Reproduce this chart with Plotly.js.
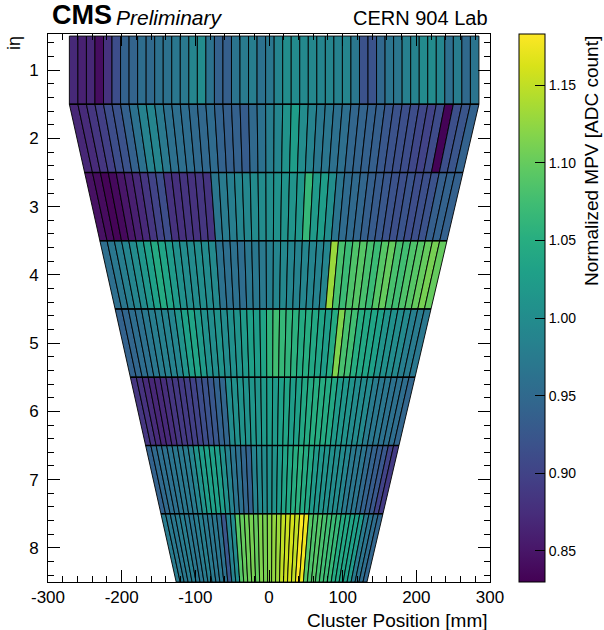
<!DOCTYPE html>
<html><head><meta charset="utf-8">
<script src="https://cdn.plot.ly/plotly-3.0.1.min.js"></script>
<style>html,body{margin:0;padding:0;background:#fff}#chart{width:604px;height:630px}</style>
</head><body><div id="chart"></div>
<script>
// ---- data ----
const etaRows = [1, 2, 3, 4, 5, 6, 7, 8];
const nStrips = 48;
// eta partition boundaries (row 1 is drawn as a rectangle using boundary 0)
const boundaryY     = [1.5, 2.5, 3.5, 4.5, 5.5, 6.5, 7.5, 8.5];
const boundaryLeft  = [-271, -250.3, -229.6, -208.9, -188.2, -167.5, -146.7, -126];
const boundaryRight = [285, 263.3, 241.6, 219.9, 198.2, 176.4, 154.7, 133];

const mpvEta1 = [0.870,0.862,0.868,0.842,0.880,0.912,0.940,0.942,0.955,0.950,0.960,0.962,0.970,0.972,0.990,1.000,
                 0.962,0.938,0.935,0.965,0.975,0.980,0.962,0.970,0.988,1.002,0.998,0.995,0.992,0.988,0.990,0.985,
                 0.990,0.970,0.918,0.920,0.948,0.965,0.968,0.982,0.985,0.998,1.000,0.990,0.958,0.978,0.950,0.965];
const mpvEta2 = [0.868,0.872,0.885,0.895,0.912,0.918,0.938,0.962,0.985,0.990,0.972,0.960,0.958,0.955,0.950,0.948,
                 0.952,0.940,0.935,0.938,0.932,0.950,0.962,0.978,0.990,1.010,1.025,1.000,0.985,0.970,0.968,0.960,
                 0.958,0.945,0.942,0.938,0.935,0.925,0.918,0.915,0.912,0.905,0.900,0.910,0.832,0.915,0.922,0.940];
const mpvEta3 = [0.845,0.840,0.833,0.838,0.850,0.860,0.870,0.885,0.900,0.912,0.880,0.878,0.882,0.880,0.885,0.882,
                 0.968,0.975,0.980,0.990,0.992,0.998,1.000,1.002,1.008,1.010,1.012,1.015,1.065,1.020,1.025,1.002,
                 0.965,0.952,0.950,0.945,0.935,0.930,0.925,0.918,0.915,0.920,0.912,0.915,0.918,0.935,0.940,0.938];
const mpvEta4 = [0.958,0.970,0.980,0.990,1.000,1.015,1.030,1.045,1.035,1.020,1.005,1.000,0.998,1.002,0.998,0.995,
                 0.962,0.958,0.960,0.955,0.968,0.970,0.972,0.980,0.990,0.992,0.988,0.985,0.990,0.988,0.985,0.990,
                 1.130,1.080,1.070,1.085,1.090,1.080,1.070,1.090,1.100,1.080,1.075,1.085,1.090,1.100,1.110,1.100];
const mpvEta5 = [0.940,0.945,0.955,0.960,0.970,0.978,0.982,0.985,0.990,1.010,1.030,1.035,1.020,1.005,1.002,1.010,
                 1.000,1.005,1.010,1.020,1.030,1.025,1.035,1.060,1.075,1.065,1.060,1.055,1.045,1.050,1.040,1.035,
                 1.025,1.045,1.115,1.080,1.075,1.050,1.040,1.035,1.030,1.010,1.005,1.000,0.995,0.980,0.975,0.970];
const mpvEta6 = [0.885,0.880,0.872,0.868,0.870,0.875,0.885,0.888,0.890,0.895,0.900,0.912,0.918,0.925,0.940,0.945,
                 1.000,1.005,1.010,1.008,1.015,1.012,1.020,1.025,1.020,1.030,1.035,1.025,1.030,1.040,1.045,1.050,
                 1.048,1.045,1.040,1.020,1.015,1.010,1.000,0.998,0.995,0.975,0.970,0.968,0.962,0.960,0.955,0.945];
const mpvEta7 = [0.940,0.950,0.958,0.960,0.965,0.970,0.972,0.975,0.990,1.010,1.025,1.030,1.030,1.025,1.005,0.985,
                 0.965,0.960,0.945,0.940,0.985,0.995,1.000,1.005,1.010,1.020,1.035,1.040,1.050,1.055,1.045,1.040,
                 1.020,1.015,1.010,1.005,1.000,0.998,0.990,0.972,0.968,0.965,0.950,0.940,0.932,0.925,0.900,0.890];
const mpvEta8 = [0.975,0.972,0.970,0.975,0.978,0.970,0.968,0.975,0.980,0.972,0.968,0.970,0.962,0.925,0.985,1.000,
                 1.090,1.100,1.105,1.110,1.100,1.115,1.110,1.120,1.125,1.130,1.150,1.155,1.160,1.150,1.183,1.175,
                 1.090,1.085,1.090,1.080,1.075,1.070,1.065,1.045,1.040,1.035,1.030,1.020,0.975,0.965,0.955,0.945];
const mpvRows = [mpvEta1, mpvEta2, mpvEta3, mpvEta4, mpvEta5, mpvEta6, mpvEta7, mpvEta8];

const zMin = 0.83, zMax = 1.183;
const xTickVals = [-300, -200, -100, 0, 100, 200, 300];
const xTickText = ['-300', '-200', '-100', '0', '100', '200', '300'];
const yTickVals = [1, 2, 3, 4, 5, 6, 7, 8];
const cbTickVals = [0.85, 0.90, 0.95, 1.00, 1.05, 1.10, 1.15];
const cbTickText = ['0.85', '0.90', '0.95', '1.00', '1.05', '1.10', '1.15'];

// ---- styling ----
const FONT = 'Liberation Sans, Arial, Helvetica, sans-serif';
const viridis = [
 [0, '#440154'], [0.06274509803921569, '#48186a'],
 [0.12549019607843137, '#472d7b'], [0.18823529411764706, '#424086'],
 [0.25098039215686274, '#3b528b'], [0.3137254901960784, '#33638d'],
 [0.3764705882352941, '#2c728e'], [0.4392156862745098, '#26828e'],
 [0.5019607843137255, '#21918c'], [0.5647058823529412, '#1fa088'],
 [0.6274509803921569, '#28ae80'], [0.6901960784313725, '#3fbc73'],
 [0.7529411764705882, '#5ec962'], [0.8156862745098039, '#84d44b'],
 [0.8784313725490196, '#addc30'], [0.9411764705882353, '#d8e219'],
 [1, '#fde725']];
function hex2rgb(h){return [parseInt(h.substr(1,2),16),parseInt(h.substr(3,2),16),parseInt(h.substr(5,2),16)];}
function colorOf(v){
  let t = (v - zMin) / (zMax - zMin); t = Math.max(0, Math.min(1, t));
  for (let k = 1; k < viridis.length; k++) {
    if (t <= viridis[k][0]) {
      const a = viridis[k-1], b = viridis[k];
      const f = (t - a[0]) / (b[0] - a[0]);
      const ca = hex2rgb(a[1]), cb = hex2rgb(b[1]);
      const c = ca.map((x, i) => Math.round(x + (cb[i] - x) * f));
      return 'rgb(' + c.join(',') + ')';
    }
  }
  return viridis[viridis.length-1][1];
}

const traces = [];
// colorbar carrier (hidden beneath the cells)
traces.push({type:'scatter', mode:'markers', x:[0], y:[5], hoverinfo:'skip', showlegend:false,
  marker:{size:1, color:[zMin], cmin:zMin, cmax:zMax, colorscale:viridis, showscale:true,
    colorbar:{thickness:26, thicknessmode:'pixels', len:1, lenmode:'fraction', y:0.5, yanchor:'middle', ypad:0,
      x:(519-48)/442, xanchor:'left', xpad:0, outlinewidth:1, outlinecolor:'#000',
      ticks:'inside', ticklen:10, tickwidth:1, tickcolor:'#000', tickmode:'array', ticklabelstandoff:6,
      tickvals:cbTickVals, ticktext:cbTickText, tickfont:{family:FONT, size:14, color:'#000'}}}});

etaRows.forEach((eta, r) => {
  const yt = eta - 0.5, yb = eta + 0.5;
  const tl = r === 0 ? boundaryLeft[0] : boundaryLeft[r-1];
  const tr = r === 0 ? boundaryRight[0] : boundaryRight[r-1];
  const bl = boundaryLeft[r], br = boundaryRight[r];
  const vals = mpvRows[r];
  for (let j = 0; j < nStrips; j++) {
    const xt0 = tl + (tr - tl) * j / nStrips, xt1 = tl + (tr - tl) * (j + 1) / nStrips;
    const xb0 = bl + (br - bl) * j / nStrips, xb1 = bl + (br - bl) * (j + 1) / nStrips;
    traces.push({type:'scatter', mode:'lines', fill:'toself', fillcolor:colorOf(vals[j]),
      x:[xt0, xt1, xb1, xb0, xt0], y:[yt, yt, yb, yb, yt],
      line:{color:'rgba(0,0,0,0.9)', width:1}, hoverinfo:'text',
      text:'iη ' + eta + ', strip ' + j + ': ' + vals[j].toFixed(3), showlegend:false});
  }
});
// eta partition separators
etaRows.forEach((eta, r) => {
  if (r === 0) return;
  traces.push({type:'scatter', mode:'lines', x:[boundaryLeft[r-1], boundaryRight[r-1]], y:[eta-0.5, eta-0.5],
    line:{color:'#000', width:1.6}, hoverinfo:'skip', showlegend:false});
});

// minor ticks of the colour bar
const shapes = [];
const cbRight = (545 - 48) / 442;
for (let k = 0; k < 40; k++) {
  const v = 0.83 + k * 0.01;
  if (v <= zMin + 1e-9 || v >= zMax) continue;
  if (Math.abs(v * 20 - Math.round(v * 20)) < 1e-6) continue;
  const yp = (v - zMin) / (zMax - zMin);
  shapes.push({type:'line', xref:'paper', yref:'paper', x0:cbRight - 5/442, x1:cbRight, y0:yp, y1:yp,
    line:{color:'#000', width:1}});
}

const axisCommon = {showgrid:false, zeroline:false, showline:true, linecolor:'#000', linewidth:1,
  mirror:'allticks', ticks:'inside', ticklen:12, tickwidth:1, tickcolor:'#000',
  tickfont:{family:FONT, size:17, color:'#000'}};

const layout = {
  width:604, height:630, paper_bgcolor:'#fff', plot_bgcolor:'#fff',
  margin:{l:48, r:114, t:34, b:48},
  showlegend:false, hovermode:'closest',
  xaxis:Object.assign({}, axisCommon, {range:[-300, 300], tickmode:'array', tickvals:xTickVals, ticktext:xTickText,
    minor:{dtick:20, ticklen:6, ticks:'inside', tickcolor:'#000', tickwidth:1}, ticklabelstandoff:0}),
  yaxis:Object.assign({}, axisCommon, {range:[8.5, 0.47], tickmode:'array', tickvals:yTickVals,
    minor:{dtick:0.2, tick0:0, ticklen:6, ticks:'inside', tickcolor:'#000', tickwidth:1}, ticklabelstandoff:5}),
  shapes:shapes,
  annotations:[
    {text:'<b>CMS</b>', xref:'paper', yref:'paper', x:0.004, y:1.034, xanchor:'left', yanchor:'middle', showarrow:false,
     font:{family:FONT, size:27, color:'#000'}},
    {text:'<i>Preliminary</i>', xref:'paper', yref:'paper', x:(114-48)/442, y:1.03, xanchor:'left', yanchor:'middle', showarrow:false,
     font:{family:FONT, size:21, color:'#000'}},
    {text:'CERN 904 Lab', xref:'paper', yref:'paper', x:1, y:1.03, xanchor:'right', yanchor:'middle', showarrow:false,
     font:{family:FONT, size:20, color:'#000'}},
    {text:'iη', xref:'paper', yref:'paper', x:(14-48)/442, y:1-(43-34)/548, xanchor:'center', yanchor:'middle', showarrow:false,
     textangle:-90, font:{family:FONT, size:18, color:'#000'}},
    {text:'Cluster Position [mm]', xref:'paper', yref:'paper', x:1, y:-(620-582)/548, xanchor:'right', yanchor:'middle', showarrow:false,
     font:{family:FONT, size:19, color:'#000'}},
    {text:'Normalized MPV [ADC count]', xref:'paper', yref:'paper', x:(591-48)/442, y:1, xanchor:'center', yanchor:'top', showarrow:false,
     textangle:-90, font:{family:FONT, size:19, color:'#000'}}
  ]
};
Plotly.newPlot('chart', traces, layout, {displayModeBar:false, staticPlot:true});
</script></body></html>
